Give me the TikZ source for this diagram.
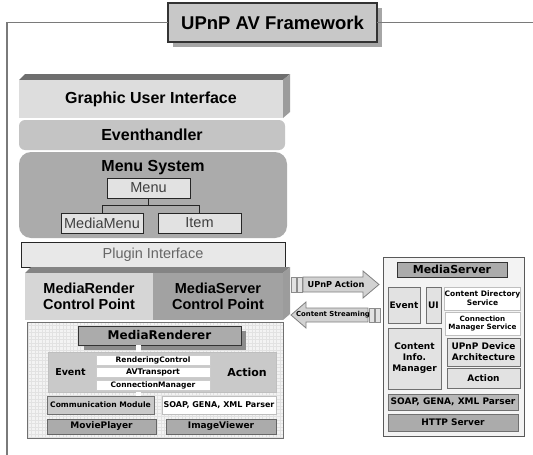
\documentclass[tikz,border=0pt]{standalone}
\usepackage{fontspec}
\setmainfont{Liberation Sans}
\newfontfamily\dv{DejaVu Sans}
\definecolor{frameline}{HTML}{7A7A7A}
\definecolor{titlefill}{HTML}{C8C8C8}
\definecolor{shadowc}{HTML}{A6A6A6}
\definecolor{darkface}{HTML}{6E6E6E}
\definecolor{sideface}{HTML}{9C9C9C}
\definecolor{guifill}{HTML}{DDDDDD}
\definecolor{evfill}{HTML}{C4C4C4}
\definecolor{menusys}{HTML}{ABABAB}
\definecolor{lightbox}{HTML}{E2E2E2}
\definecolor{cpleft}{HTML}{D6D6D6}
\definecolor{cpright}{HTML}{A2A2A2}
\definecolor{panel}{HTML}{F3F3F3}
\definecolor{gridc}{HTML}{E2E2E2}
\definecolor{midbox}{HTML}{C9C9C9}
\definecolor{darkbox}{HTML}{ABABAB}
\definecolor{edge}{HTML}{707070}
\definecolor{arrowfill}{HTML}{D2D2D2}
% box from (x1,y1) to (x2,y2), y counted downwards
\newcommand\blk[7]{\node[#6,minimum width={(#4-#2)*1pt},minimum height={(#5-#3)*1pt}] (#1) at ({(#2+#4)/2},{(#3+#5)/2}) {#7};}
\begin{document}
\begin{tikzpicture}[x=1pt,y=-1pt,
  base/.style={rectangle,inner sep=0pt,outer sep=0pt,align=center},
  bigbold/.style={base,font=\fontsize{16}{18}\selectfont\bfseries},
  cpbold/.style={base,font=\fontsize{14.5}{16.5}\selectfont\bfseries},
  menubox/.style={base,draw=black!85,line width=1pt,fill=lightbox,font=\fontsize{14.5}{16}\selectfont,text=black!75},
  sm/.style={base,draw=edge,line width=0.8pt,font=\dv\bfseries\fontsize{9}{10.5}\selectfont},
  frame/.style={draw=frameline,line width=1.3pt}]
\useasboundingbox (0,0) rectangle (533,455);
\fill[white] (0,0) rectangle (533,455);

% ---------- framework title and frame ----------
\fill[shadowc] (173,8) rectangle (382,47);
\blk{title}{168}{3}{377}{42}{base,draw=black!80,line width=1.2pt,fill=titlefill,font=\fontsize{18.5}{20}\selectfont\bfseries}{UPnP AV Framework}
\draw[frame] (title.west) -- (7,22.5) -- (7,455);
\draw[frame] (title.east) -- (533,22.5);

% ---------- Graphic User Interface (3D slab) ----------
\fill[darkface] (19,80) -- (25,74) -- (290,74) -- (283,80) -- cycle;
\fill[sideface] (283,80) -- (290,74) -- (290,112) -- (283,118) -- cycle;
\blk{gui}{19}{80}{283}{118}{bigbold,fill=guifill}{Graphic User Interface}

% ---------- Eventhandler ----------
\blk{evh}{19}{120}{285}{150}{bigbold,fill=evfill,rounded corners=6pt}{Eventhandler}

% ---------- Menu System ----------
\blk{msys}{19}{152}{287}{238}{base,fill=menusys,rounded corners=12pt}{}
\node[bigbold] (msyst) at (153,168) {Menu System};
\blk{menu}{107}{178}{190}{198}{menubox}{Menu}
\blk{mmenu}{61}{213}{143}{233}{menubox}{MediaMenu}
\blk{item}{158}{213}{241}{233}{menubox}{Item}
\coordinate (fork) at (148.5,205);
\draw[line width=1pt,black!85] (menu.south) -- (fork);
\draw[line width=1pt,black!85] (mmenu.north) -- (mmenu.north |- fork) -- (item.north |- fork) -- (item.north);

% ---------- Plugin Interface ----------
\blk{plug}{21}{242}{285}{267}{menubox,fill=lightbox!80,text=black!60}{Plugin Interface}

% ---------- Control points (3D slab) ----------
\fill[darkface!85] (25,273) -- (31,267) -- (290,267) -- (283,273) -- cycle;
\fill[sideface] (283,273) -- (290,267) -- (290,314) -- (283,320) -- cycle;
\blk{mrcp}{25}{273}{153}{320}{cpbold,fill=cpleft}{MediaRender\\Control Point}
\blk{mscp}{153}{273}{283}{320}{cpbold,fill=cpright}{MediaServer\\Control Point}

% ---------- MediaRenderer panel ----------
\blk{rpanel}{27}{322}{283}{438}{base,fill=panel}{}
\begin{scope}
  \clip (27,322) rectangle (283,438);
  \draw[gridc,line width=0.3pt,step=3.5pt] (27,322) grid (283,438);
\end{scope}
\draw[edge,line width=0.8pt] (rpanel.north west) rectangle (rpanel.south east);
\fill[black!45] (84,345) rectangle (246,350);
\fill[black!45] (241,331) rectangle (246,350);
\blk{mrend}{78}{326}{241}{345}{sm,draw=black!80,line width=1pt,fill=darkbox,font=\dv\bfseries\fontsize{12}{14}\selectfont}{MediaRenderer}
\blk{evact}{48}{352}{276}{392}{base,fill=midbox,draw=black!25,line width=0.6pt}{}
\node[base,font=\dv\bfseries\fontsize{9.5}{11}\selectfont] (rev) at (70.5,372) {Event};
\node[base,font=\dv\bfseries\fontsize{11}{12}\selectfont] (ract) at (247,372) {Action};
\fill[white] (136,345) rectangle (141,352);
\fill[white] (136,392) rectangle (141,396);
\blk{rc}{96}{355}{210}{365}{sm,fill=white,draw=black!20,font=\dv\bfseries\fontsize{7.5}{8}\selectfont}{RenderingControl}
\blk{avt}{96}{367.5}{210}{377.5}{sm,fill=white,draw=black!20,font=\dv\bfseries\fontsize{7.8}{8}\selectfont}{AVTransport}
\blk{cmgr}{96}{380}{210}{390}{sm,fill=white,draw=black!20,font=\dv\bfseries\fontsize{7.5}{8}\selectfont}{ConnectionManager}
\blk{comm}{47}{396}{154}{414}{sm,fill=midbox,font=\dv\bfseries\fontsize{7.6}{8}\selectfont}{Communication Module}
\blk{rsoap}{162}{396}{276}{414}{sm,fill=white,draw=black!25,font=\dv\bfseries\fontsize{8}{9}\selectfont}{SOAP, GENA, XML Parser}
\blk{movie}{47}{419}{156}{434}{sm,fill=darkbox,draw=black!60}{MoviePlayer}
\blk{image}{166}{419}{276}{434}{sm,fill=darkbox,draw=black!60}{ImageViewer}

% ---------- exchange arrows ----------
\filldraw[fill=arrowfill,draw=black!50,line width=0.8pt]
  (303,277) -- (363,277) -- (363,271) -- (379,284.5) -- (363,298) -- (363,292) -- (303,292) -- cycle;
\filldraw[fill=lightbox,draw=black!45,line width=0.6pt] (291,277) rectangle (296,292);
\filldraw[fill=lightbox,draw=black!45,line width=0.6pt] (297,277) rectangle (302,292);
\node[base,font=\dv\bfseries\fontsize{8.2}{9}\selectfont] (upnpact) at (336,284.5) {UPnP Action};
\filldraw[fill=arrowfill,draw=black!50,line width=0.8pt]
  (368,308) -- (306,308) -- (306,302) -- (291,315) -- (306,328) -- (306,322) -- (368,322) -- cycle;
\filldraw[fill=lightbox,draw=black!45,line width=0.6pt] (369,308) rectangle (374,322);
\filldraw[fill=lightbox,draw=black!45,line width=0.6pt] (375,308) rectangle (380,322);
\node[base,font=\dv\bfseries\fontsize{6.9}{8}\selectfont] (cstream) at (333,315) {Content Streaming};

% ---------- MediaServer panel ----------
\blk{spanel}{383}{257}{524}{436}{base,fill=panel,draw=black!65,line width=1pt}{}
\blk{mserv}{397}{262}{507}{277}{sm,draw=black!80,line width=1pt,fill=darkbox,font=\dv\bfseries\fontsize{11}{12}\selectfont}{MediaServer}
\blk{sev}{388}{287}{420}{323}{sm,fill=lightbox}{Event}
\blk{sui}{426}{287}{441}{323}{sm,fill=lightbox}{UI}
\blk{cds}{445}{287}{520}{310}{sm,fill=white,draw=black!25,font=\dv\bfseries\fontsize{7.5}{8.6}\selectfont}{Content Directory\\Service}
\blk{cms}{445}{312}{520}{335}{sm,fill=white,draw=black!25,font=\dv\bfseries\fontsize{7.2}{8.6}\selectfont}{Connection\\Manager Service}
\blk{cim}{388}{328}{441}{389}{sm,fill=lightbox,font=\dv\bfseries\fontsize{9}{11}\selectfont}{Content\\Info.\\Manager}
\blk{uda}{447}{338}{520}{366}{sm,fill=lightbox,font=\dv\bfseries\fontsize{9}{11}\selectfont}{UPnP Device\\Architecture}
\blk{sact}{447}{368}{520}{388}{sm,fill=lightbox}{Action}
\blk{ssoap}{388}{394}{518}{410}{sm,fill=darkbox!85}{SOAP, GENA, XML Parser}
\blk{http}{388}{414}{518}{431}{sm,fill=darkbox}{HTTP Server}
\end{tikzpicture}
\end{document}
